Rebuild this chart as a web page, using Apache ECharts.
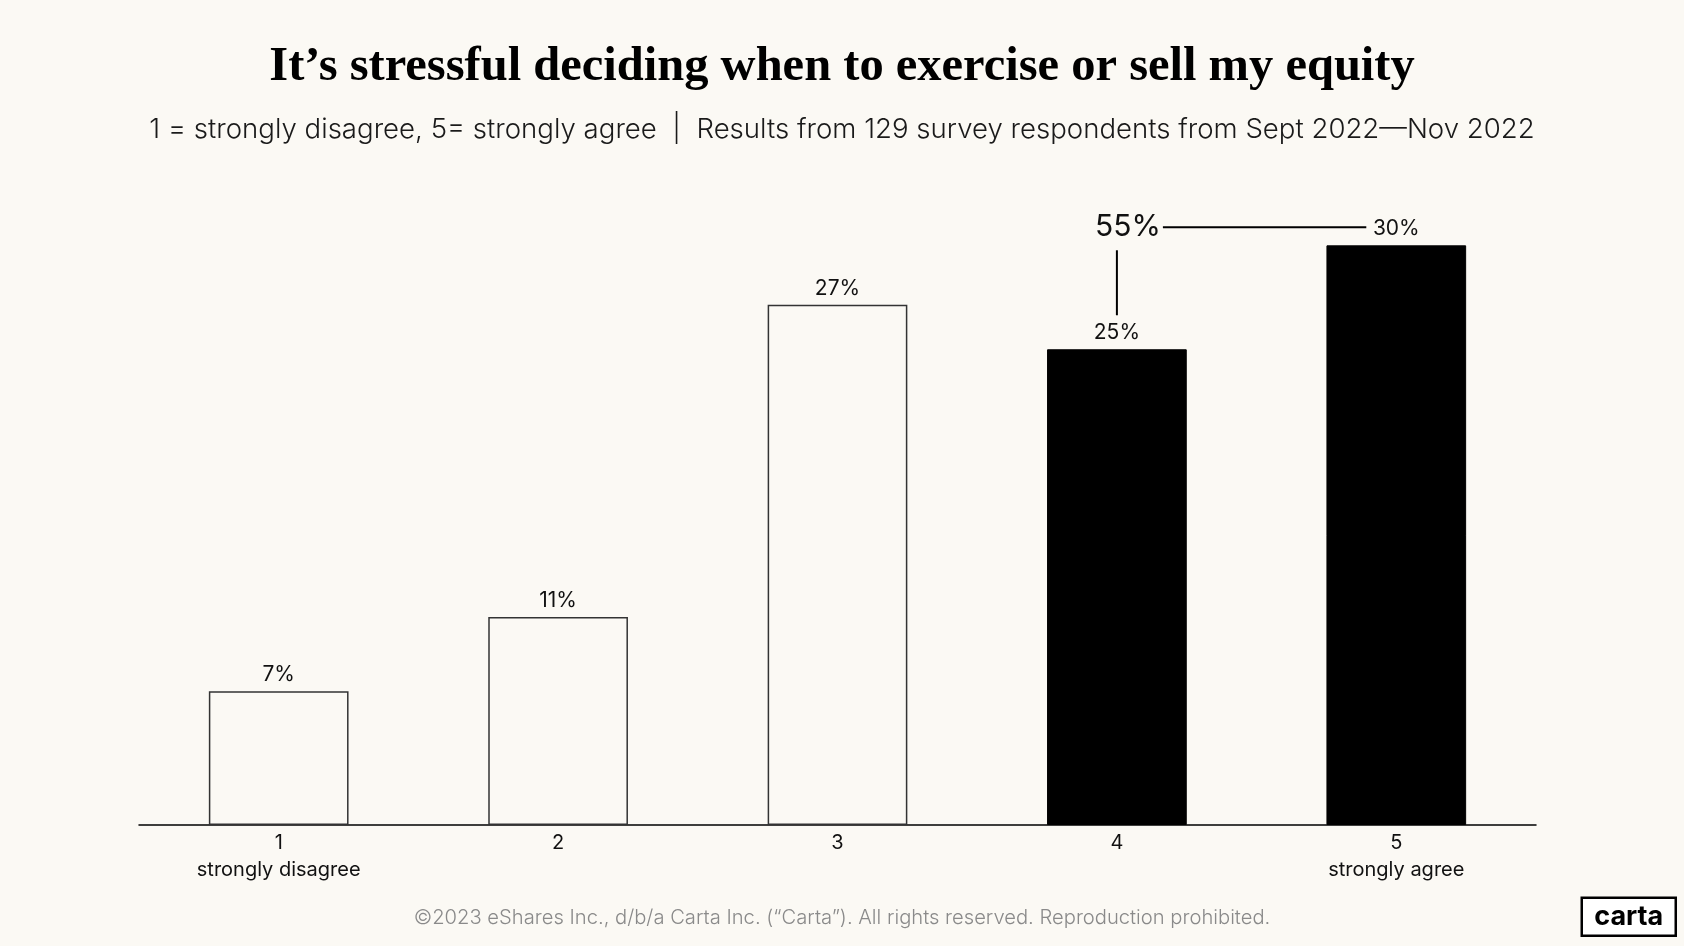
<!DOCTYPE html>
<html><head><meta charset="utf-8">
<script src="https://cdn.jsdelivr.net/npm/echarts@6/dist/echarts.min.js"></script>
<style>html,body{margin:0;padding:0;background:#fbf9f4}#c{width:1684px;height:946px}</style>
</head><body><div id="c"></div>
<script>
const categories = ['1', '2', '3', '4', '5'];
const categorySubLabels = ['strongly disagree', '', '', '', 'strongly agree'];
const values = [6.98, 10.85, 27.13, 24.81, 30.23];
const highlighted = [false, false, false, true, true];
const titleText = 'It\u2019s stressful deciding when to exercise or sell my equity';
const subtitleText = '1 = strongly disagree, 5= strongly agree  |  Results from 129 survey respondents from Sept 2022\u2014Nov 2022';
const footerText = '\u00a92023 eShares Inc., d/b/a Carta Inc. (\u201cCarta\u201d). All rights reserved. Reproduction prohibited.';

const BG = '#fbf9f4';
const SANS = 'Inter, "Noto Sans", sans-serif';
const chart = echarts.init(document.getElementById('c'));

const option = {
  backgroundColor: BG,
  animation: false,
  title: [
    { text: titleText, left: 'center', top: 38,
      textStyle: { fontFamily: '"Liberation Serif", serif', fontWeight: 'bold', fontSize: 48.5, color: '#000' } },
    { text: subtitleText, left: 'center', top: 111,
      textStyle: { fontFamily: SANS, fontWeight: 300, fontSize: 27.6, color: '#1a1a1a' } },
    { text: footerText, left: 'center', top: 903,
      textStyle: { fontFamily: SANS, fontWeight: 300, fontSize: 20.2, color: '#8a8a8a' } }
  ],
  grid: { left: 139, right: 148, top: 58, bottom: 121 },
  xAxis: {
    type: 'category',
    data: categories,
    axisLine: { lineStyle: { color: '#000', width: 1.5 } },
    axisTick: { show: false },
    axisLabel: {
      margin: 5,
      formatter: (v, i) => categorySubLabels[i] ? `{n|${v}}\n{s|${categorySubLabels[i]}}` : `{n|${v}}`,
      rich: {
        n: { fontFamily: SANS, fontSize: 20, color: '#111', lineHeight: 26 },
        s: { fontFamily: SANS, fontSize: 20, color: '#111', lineHeight: 28 }
      }
    }
  },
  yAxis: { type: 'value', min: 0, max: 40, show: false, splitLine: { show: false } },
  series: [{
    type: 'bar',
    barWidth: '50%',
    data: values.map((v, i) => ({
      value: v,
      itemStyle: highlighted[i]
        ? { color: '#000', borderColor: '#000', borderWidth: 1 }
        : { color: BG, borderColor: '#333', borderWidth: 1.5 }
    })),
    label: {
      show: true, position: 'top', distance: 6,
      formatter: p => Math.round(p.value) + '%',
      fontFamily: SANS, fontSize: 21, color: '#111'
    }
  }]
};
chart.setOption(option);

// Annotation for combined share of top two categories
const iA = 3, iB = 4;
const pA = chart.convertToPixel({ seriesIndex: 0 }, [iA, values[iA]]);
const pB = chart.convertToPixel({ seriesIndex: 0 }, [iB, values[iB]]);
const combined = Math.round(values[iA] + values[iB]) + '%';
const annY = pB[1] - 18;
chart.setOption({
  graphic: [
    { type: 'line', shape: { x1: pA[0], y1: pA[1] - 34, x2: pA[0], y2: pA[1] - 99 },
      style: { stroke: '#000', lineWidth: 2 } },
    { type: 'text', x: pA[0] + 11, y: annY, style: { text: combined, fontFamily: SANS, fontSize: 30,
      fill: '#111', align: 'center', verticalAlign: 'middle' } },
    { type: 'line', shape: { x1: pA[0] + 46, y1: annY, x2: pB[0] - 30, y2: annY },
      style: { stroke: '#000', lineWidth: 2 } },
    { type: 'group', right: 7, bottom: 9, children: [
      { type: 'rect', shape: { x: 0, y: 0, width: 94, height: 38 },
        style: { fill: '#fff', stroke: '#000', lineWidth: 2.5 } },
      { type: 'text', x: 47, y: 19, style: { text: 'carta', fontFamily: SANS, fontWeight: 'bold',
        fontSize: 27, fill: '#000', align: 'center', verticalAlign: 'middle' } }
    ] }
  ]
});
</script></body></html>
